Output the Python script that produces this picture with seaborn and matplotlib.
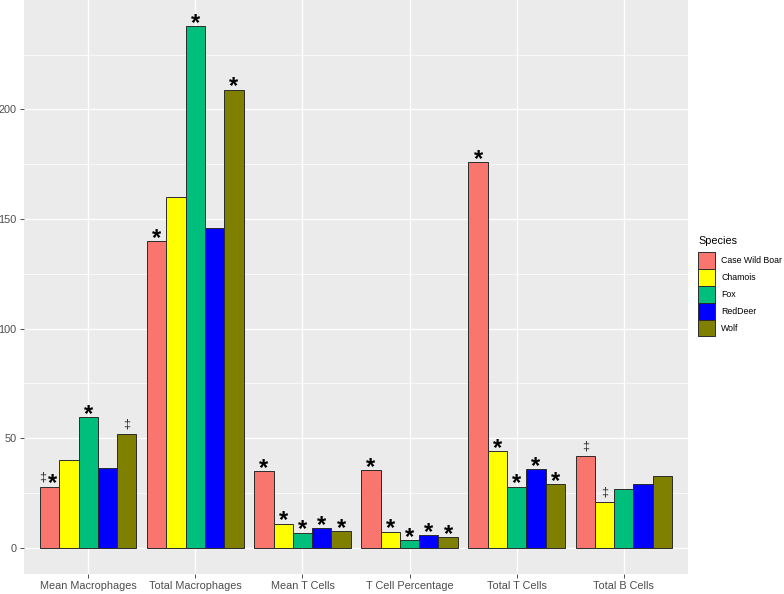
import matplotlib
matplotlib.use("Agg")
import matplotlib.pyplot as plt
import seaborn as sns
import pandas as pd
import numpy as np
from matplotlib.ticker import MultipleLocator

categories = ["Mean Macrophages", "Total Macrophages", "Mean T Cells",
              "T Cell Percentage", "Total T Cells", "Total B Cells"]
species = ["Case Wild Boar", "Chamois", "Fox", "RedDeer", "Wolf"]

boar = [28, 140, 35, 35.5, 176, 42]
chamois = [40, 160, 11, 7.3, 44, 21]
fox = [59.5, 238, 7, 3.5, 28, 27]
reddeer = [36.5, 146, 9, 5.7, 36, 29]
wolf = [52, 209, 7.5, 5, 29, 33]

boar_sig = ["‡*", "*", "*", "*", "*", "‡"]
chamois_sig = ["", "", "*", "*", "*", "‡"]
fox_sig = ["*", "*", "*", "*", "*", ""]
reddeer_sig = ["", "", "*", "*", "*", ""]
wolf_sig = ["‡", "*", "*", "*", "*", ""]

colors = ["#F8766D", "#FFFF00", "#00BF7D", "#0000FF", "#808000"]

values = [boar, chamois, fox, reddeer, wolf]
sigs = [boar_sig, chamois_sig, fox_sig, reddeer_sig, wolf_sig]

rows = []
for sp, vals in zip(species, values):
    for cat, v in zip(categories, vals):
        rows.append({"Category": cat, "Species": sp, "Value": v})
df = pd.DataFrame(rows)

sns.set_style({"axes.facecolor": "#EBEBEB", "grid.color": "white",
               "axes.edgecolor": "#EBEBEB"})
plt.rcParams["font.family"] = ["Liberation Sans", "DejaVu Sans"]

fig = plt.figure(figsize=(7.84, 5.94), dpi=100)
ax = fig.add_axes([24 / 784, 1 - 574 / 594, (688 - 24) / 784, 574 / 594])

sns.barplot(data=df, x="Category", y="Value", hue="Species", order=categories,
            hue_order=species, palette=colors, width=0.9, ax=ax,
            edgecolor="#2b2b2b", linewidth=0.7, saturation=1, errorbar=None,
            legend=True)

# annotations
for cont, sig in zip(ax.containers, sigs):
    for bar, s in zip(cont, sig):
        if not s:
            continue
        x = bar.get_x() + bar.get_width() / 2
        h = bar.get_height()
        if s == "‡*":
            ax.annotate("‡", (x, h), xytext=(-5.3, 4.5), textcoords="offset points",
                        ha="center", va="baseline", fontsize=9, color="#333333")
            ax.annotate("*", (x, h), xytext=(1.8, -2.6), textcoords="offset points",
                        ha="center", va="baseline", fontsize=17, fontweight="bold",
                        color="black")
        elif s == "‡":
            ax.annotate("‡", (x, h), xytext=(0, 4.5), textcoords="offset points",
                        ha="center", va="baseline", fontsize=9, color="#333333")
        else:
            ax.annotate("*", (x, h), xytext=(0, -2.6), textcoords="offset points",
                        ha="center", va="baseline", fontsize=17, fontweight="bold",
                        color="black")

ymax = max(max(v) for v in values)
ymin = 0
pad = (ymax - ymin) * 0.05
ax.set_ylim(ymin - pad, ymax + pad)
ax.set_xlim(-0.6, len(categories) - 0.4)
ax.yaxis.set_major_locator(MultipleLocator(50))
ax.yaxis.set_minor_locator(MultipleLocator(25))
ax.grid(True, which="major", color="white", linewidth=1.0)
ax.grid(True, which="minor", axis="y", color="white", linewidth=0.5)
ax.set_axisbelow(True)
for sp in ax.spines.values():
    sp.set_visible(False)
ax.set_xlabel("")
ax.set_ylabel("")
ax.tick_params(axis="both", which="major", length=2.7, width=0.6, color="#333333",
               labelsize=7.8, labelcolor="#4D4D4D", pad=2.5)
ax.tick_params(axis="y", which="minor", length=0)

leg = ax.legend(title="Species", loc="upper left",
                bbox_to_anchor=(698 / 784, 1 - 236 / 594),
                bbox_transform=fig.transFigure, frameon=False,
                fontsize=6.3, title_fontsize=7.8, handlelength=1.94,
                handleheight=2.61, labelspacing=0.0, handletextpad=0.7,
                borderpad=0, borderaxespad=0, alignment="left")
leg._legend_box.sep = 4
for h in leg.legend_handles:
    h.set_edgecolor("#2b2b2b")
    h.set_linewidth(0.7)

fig.savefig("out.png", dpi=100)
